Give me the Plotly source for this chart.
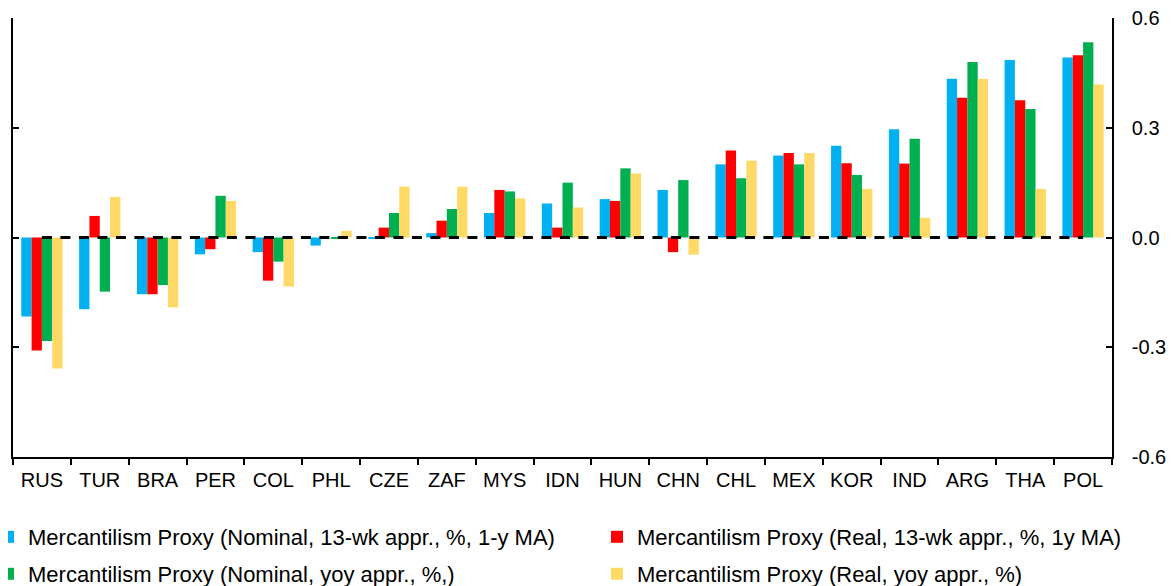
import plotly.graph_objects as go

categories = ["RUS", "TUR", "BRA", "PER", "COL", "PHL", "CZE", "ZAF", "MYS", "IDN",
              "HUN", "CHN", "CHL", "MEX", "KOR", "IND", "ARG", "THA", "POL"]

nominal_13wk = [-0.216, -0.196, -0.155, -0.046, -0.040, -0.022, -0.002, 0.012, 0.067, 0.093,
                0.105, 0.130, 0.200, 0.224, 0.251, 0.296, 0.434, 0.485, 0.492]
real_13wk = [-0.309, 0.059, -0.155, -0.032, -0.118, 0.0, 0.027, 0.046, 0.130, 0.027,
             0.100, -0.040, 0.238, 0.231, 0.203, 0.202, 0.382, 0.375, 0.498]
nominal_yoy = [-0.283, -0.148, -0.130, 0.114, -0.066, -0.004, 0.067, 0.078, 0.126, 0.150,
               0.189, 0.157, 0.162, 0.200, 0.171, 0.270, 0.480, 0.351, 0.534]
real_yoy = [-0.358, 0.111, -0.191, 0.100, -0.134, 0.018, 0.139, 0.139, 0.107, 0.082,
            0.175, -0.047, 0.210, 0.231, 0.133, 0.054, 0.433, 0.133, 0.418]
zero_line = [0.0] * len(categories)

series_names = [
    "Mercantilism Proxy (Nominal, 13-wk appr., %, 1-y MA)",
    "Mercantilism Proxy (Real, 13-wk appr., %, 1y MA)",
    "Mercantilism Proxy (Nominal, yoy appr., %,)",
    "Mercantilism Proxy (Real, yoy appr., %)",
]
series_values = [nominal_13wk, real_13wk, nominal_yoy, real_yoy]
colors = ["#00B0F0", "#FF0000", "#00B050", "#FFD966"]
legend_ids = ["legend", "legend2", "legend3", "legend4"]

y_ticks = [-0.6, -0.3, 0.0, 0.3, 0.6]
y_tick_text = ["-0.6", "-0.3", "0.0", "0.3", "0.6"]

FONT = "Liberation Sans, Arial, sans-serif"

fig = go.Figure()
for name, vals, col, lg in zip(series_names, series_values, colors, legend_ids):
    fig.add_trace(go.Bar(x=categories, y=vals, name=name, marker_color=col,
                         marker_line_width=0, legend=lg))

fig.add_trace(go.Scatter(x=categories, y=zero_line, mode="lines", showlegend=False,
                         line=dict(color="black", width=3, dash="10px,8.5px"),
                         hoverinfo="skip"))

# page body has an 8px margin: figure occupies page pixels 8..1175 / 8..586
OFF = 8
W, H = 1175 - OFF, 586 - OFF
plot_l, plot_r, plot_t, plot_b = 13, 1112, 18, 457  # page pixels
ml = plot_l - OFF
mr = (W + OFF) - plot_r
mt = plot_t - OFF
mb = (H + OFF) - plot_b
pw = W - ml - mr
ph = H - mt - mb


def px_x(p):
    return (p - plot_l) / pw


def px_y(p):
    return (plot_b - p) / ph


# legend text start (page px) and row centre (page px); symbol area is 40px before text
leg_pos = {
    "legend": (28, 537),
    "legend2": (637, 537),
    "legend3": (28, 574),
    "legend4": (637, 574),
}
legend_layout = {}
for key, (tx, ty) in leg_pos.items():
    legend_layout[key] = dict(orientation="h", x=px_x(tx - 40), y=px_y(ty),
                              xanchor="left", yanchor="middle",
                              font=dict(size=22, family=FONT, color="black"),
                              bgcolor="rgba(0,0,0,0)", itemwidth=30)

fig.update_layout(
    width=W, height=H,
    margin=dict(l=ml, r=mr, t=mt, b=mb, autoexpand=False),
    plot_bgcolor="white", paper_bgcolor="white",
    barmode="group", bargap=0.286, bargroupgap=0,
    font=dict(family=FONT, size=20, color="black"),
    xaxis=dict(type="category", showline=True, linecolor="black", linewidth=1.5,
               ticks="outside", ticklen=6, tickwidth=1.5, tickcolor="black",
               tickson="boundaries", showgrid=False, tickfont=dict(size=20),
               zeroline=False, ticklabelstandoff=4),
    yaxis=dict(range=[-0.6, 0.6], side="right", showline=True, linecolor="black",
               linewidth=1.5, mirror="ticks", ticks="inside", ticklen=6, tickwidth=1.5,
               tickcolor="black", tickvals=y_ticks, ticktext=y_tick_text,
               showgrid=False, zeroline=False, tickfont=dict(size=20),
               ticklabelstandoff=14, ticklabeloverflow="allow"),
    **legend_layout,
)

fig.write_html("out.html")
